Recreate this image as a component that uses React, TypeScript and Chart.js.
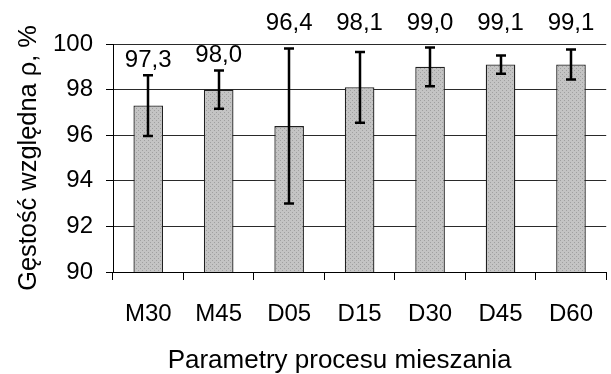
import React, { useEffect, useRef } from 'react';
import { Chart, registerables } from 'chart.js';

Chart.register(...registerables);

const categories = ['M30', 'M45', 'D05', 'D15', 'D30', 'D45', 'D60'];
const density = [97.3, 98.0, 96.4, 98.1, 99.0, 99.1, 99.1];
const errors = [1.33, 0.84, 3.4, 1.55, 0.85, 0.4, 0.66];
const yTicks = [90, 92, 94, 96, 98, 100];
const valueLabels = density.map((v) => v.toFixed(1).replace('.', ','));
const xTitle = 'Parametry procesu mieszania';
const yTitle = 'Gęstość względna ρ, %';

const FONT = "'Liberation Sans', Arial, sans-serif";

function makePattern(): CanvasPattern | string {
  const c = document.createElement('canvas');
  c.width = 4;
  c.height = 4;
  const g = c.getContext('2d');
  if (!g) return '#c0c0c0';
  g.fillStyle = '#c4c4c4';
  g.fillRect(0, 0, 4, 4);
  g.fillStyle = '#a0a0a0';
  g.fillRect(0, 0, 1, 1);
  g.fillRect(2, 2, 1, 1);
  const p = g.createPattern(c, 'repeat');
  return p || '#c0c0c0';
}

const errorBarPlugin = {
  id: 'errorBars',
  afterDatasetsDraw(chart: any) {
    const ctx = chart.ctx;
    const meta = chart.getDatasetMeta(0);
    const ys = chart.scales.y;
    const area = chart.chartArea;
    ctx.save();
    ctx.strokeStyle = '#000';
    ctx.lineWidth = 2.5;
    meta.data.forEach((bar: any, i: number) => {
      const x = Math.round(bar.x);
      const top = ys.getPixelForValue(density[i] + errors[i]);
      const bot = ys.getPixelForValue(density[i] - errors[i]);
      ctx.beginPath();
      ctx.moveTo(x, top);
      ctx.lineTo(x, bot);
      ctx.moveTo(x - 5, top);
      ctx.lineTo(x + 5, top);
      ctx.moveTo(x - 5, bot);
      ctx.lineTo(x + 5, bot);
      ctx.stroke();
    });
    ctx.fillStyle = '#000';
    ctx.font = `24px ${FONT}`;
    ctx.textAlign = 'center';
    ctx.textBaseline = 'middle';
    meta.data.forEach((bar: any, i: number) => {
      const top = ys.getPixelForValue(density[i] + errors[i]);
      let y = top - 15;
      if (top - area.top < 24) y = area.top - 21;
      ctx.fillText(valueLabels[i], bar.x, y);
    });
    ctx.restore();
  },
  afterDraw(chart: any) {
    const ctx = chart.ctx;
    const area = chart.chartArea;
    ctx.save();
    ctx.fillStyle = '#000';
    ctx.font = `26px ${FONT}`;
    ctx.textAlign = 'center';
    ctx.textBaseline = 'alphabetic';
    ctx.fillText(xTitle, (area.left + area.right) / 2 - 20, chart.height - 6);
    ctx.restore();
  },
};

export default function App() {
  const ref = useRef<HTMLCanvasElement | null>(null);

  useEffect(() => {
    if (!ref.current) return;
    const chart = new Chart(ref.current, {
      type: 'bar',
      data: {
        labels: categories,
        datasets: [
          {
            data: density,
            backgroundColor: makePattern() as any,
            borderColor: '#202020',
            borderWidth: 1.3,
            categoryPercentage: 1,
            barPercentage: 0.42,
          },
        ],
      },
      options: {
        responsive: false,
        animation: false,
        devicePixelRatio: 1,
        layout: { padding: { top: 44, left: 0, right: 0, bottom: 0 } },
        plugins: { legend: { display: false }, tooltip: { enabled: false } },
        scales: {
          x: {
            offset: true,
            grid: {
              offset: true,
              drawOnChartArea: false,
              drawTicks: true,
              tickLength: 8,
              color: '#000',
              tickColor: '#000',
            },
            border: { color: '#000', width: 1 },
            ticks: { color: '#000', padding: 20, font: { family: FONT, size: 24 }, maxRotation: 0 },
            title: { display: false },
            afterFit(scale: any) {
              scale.height = 102;
            },
          },
          y: {
            min: 90,
            max: 100,
            afterBuildTicks(scale: any) {
              scale.ticks = yTicks.map((v) => ({ value: v }));
            },
            grid: { color: '#2a2a2a', tickColor: '#000', tickLength: 7, drawTicks: true },
            border: { color: '#000', width: 1 },
            ticks: { color: '#000', padding: 13, font: { family: FONT, size: 24 } },
            title: {
              display: true,
              text: yTitle,
              color: '#000',
              font: { family: FONT, size: 25.4 },
              padding: { top: 14, bottom: 0 },
            },
            afterFit(scale: any) {
              scale.width = 113;
            },
          },
        },
      },
      plugins: [errorBarPlugin],
    });
    return () => chart.destroy();
  }, []);

  return (
    <div
      style={{
        position: 'absolute',
        left: 0,
        top: 0,
        width: 611,
        height: 374,
        overflow: 'hidden',
        background: '#fff',
      }}
    >
      <canvas ref={ref} width={613} height={374} />
    </div>
  );
}
